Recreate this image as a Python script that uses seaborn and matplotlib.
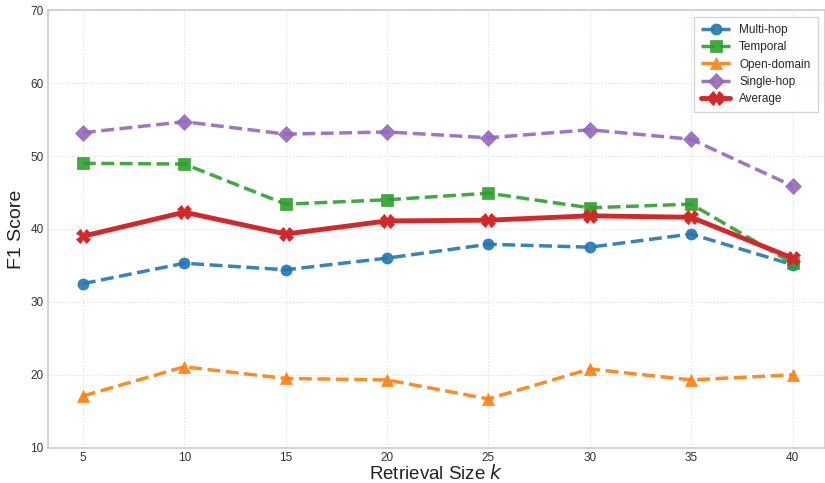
import pandas as pd
import seaborn as sns
import matplotlib.pyplot as plt

k_values = [5, 10, 15, 20, 25, 30, 35, 40]
multi_hop = [32.5, 35.3, 34.4, 36.0, 37.9, 37.5, 39.3, 35.1]
temporal = [49.0, 48.9, 43.4, 44.0, 44.9, 42.9, 43.4, 35.3]
open_domain = [17.1, 21.1, 19.5, 19.3, 16.7, 20.8, 19.3, 20.0]
single_hop = [53.2, 54.7, 53.0, 53.3, 52.5, 53.6, 52.3, 45.9]
average = [39.0, 42.3, 39.3, 41.1, 41.2, 41.8, 41.6, 36.0]

series = {
    'Multi-hop': multi_hop,
    'Temporal': temporal,
    'Open-domain': open_domain,
    'Single-hop': single_hop,
    'Average': average,
}

# style per series: colour, marker, linestyle, linewidth, markersize, alpha
styles = {
    'Multi-hop': ('#1f77b4', 'o', '--', 2.5, 8, 0.9),
    'Temporal': ('#2ca02c', 's', '--', 2.5, 8, 0.9),
    'Open-domain': ('#ff7f0e', '^', '--', 2.5, 8, 0.9),
    'Single-hop': ('#9467bd', 'D', '--', 2.5, 8, 0.9),
    'Average': ('#d62728', 'X', '-', 3.5, 10, 1.0),
}

sns.set_theme(style='whitegrid')
plt.rcParams['font.family'] = ['Liberation Sans', 'DejaVu Sans']

fig = plt.figure(figsize=(8.25, 4.83), dpi=100)
ax = fig.add_axes([0.058, 0.073, 0.942, 0.906])

for name, values in series.items():
    color, marker, ls, lw, ms, a = styles[name]
    df = pd.DataFrame({'k': k_values, 'f1': values})
    sns.lineplot(data=df, x='k', y='f1', ax=ax, color=color, marker=marker,
                 linestyle=ls, linewidth=lw, markersize=ms, alpha=a,
                 markeredgewidth=0.5, markeredgecolor=color, label=name)

ax.set_xlim(3.27, 41.6)
ax.set_ylim(10, 70)
ax.set_xticks(k_values)
ax.set_yticks(range(10, 71, 10))
ax.tick_params(axis='both', labelsize=8.5, colors='#333333', length=0, pad=3)
ax.set_xlabel('Retrieval Size $k$', fontsize=13.5, color='#222222', labelpad=0)
ax.set_ylabel('F1 Score', fontsize=14, color='#222222', labelpad=4)
ax.grid(True, linestyle=':', linewidth=0.8, color='#dddddd')
for spine in ax.spines.values():
    spine.set_color('#cccccc')
    spine.set_linewidth(1.2)

leg = ax.legend(loc='upper right', fontsize=8.5, frameon=True, fancybox=False,
                edgecolor='#cccccc', handlelength=2.4, borderpad=0.6,
                labelspacing=0.45, bbox_to_anchor=(0.998, 0.998))
leg.get_frame().set_linewidth(1.0)

fig.savefig('out.png', dpi=100)
